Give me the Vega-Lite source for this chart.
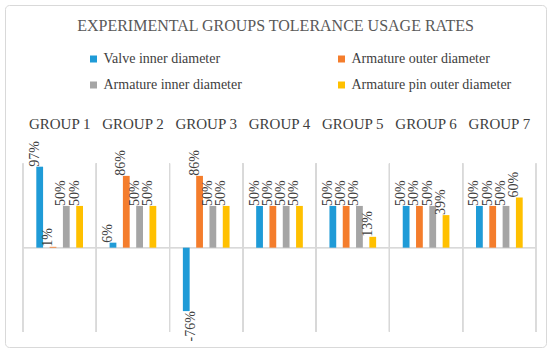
{
  "$schema": "https://vega.github.io/schema/vega-lite/v6.json",
  "width": 541,
  "height": 342,
  "autosize": {"type": "none"},
  "padding": {"left": 5, "top": 5, "right": 4, "bottom": 6},
  "background": "white",
  "title": {
    "text": "EXPERIMENTAL GROUPS TOLERANCE USAGE RATES",
    "font": "Liberation Serif",
    "fontSize": 16,
    "fontWeight": "normal",
    "color": "#595959",
    "anchor": "middle",
    "offset": 0,
    "dy": 29
  },
  "config": {
    "view": {"stroke": "#d9d9d9", "cornerRadius": 4},
    "font": "Liberation Serif",
    "tick": {"bandSize": 1, "thickness": 1}
  },
  "data": {
    "values": [
      {"group": "GROUP 1", "series": "Valve inner diameter", "value": 0.97},
      {"group": "GROUP 1", "series": "Armature outer diameter", "value": 0.01},
      {"group": "GROUP 1", "series": "Armature inner diameter", "value": 0.5},
      {"group": "GROUP 1", "series": "Armature pin outer diameter", "value": 0.5},
      {"group": "GROUP 2", "series": "Valve inner diameter", "value": 0.06},
      {"group": "GROUP 2", "series": "Armature outer diameter", "value": 0.86},
      {"group": "GROUP 2", "series": "Armature inner diameter", "value": 0.5},
      {"group": "GROUP 2", "series": "Armature pin outer diameter", "value": 0.5},
      {"group": "GROUP 3", "series": "Valve inner diameter", "value": -0.76},
      {"group": "GROUP 3", "series": "Armature outer diameter", "value": 0.86},
      {"group": "GROUP 3", "series": "Armature inner diameter", "value": 0.5},
      {"group": "GROUP 3", "series": "Armature pin outer diameter", "value": 0.5},
      {"group": "GROUP 4", "series": "Valve inner diameter", "value": 0.5},
      {"group": "GROUP 4", "series": "Armature outer diameter", "value": 0.5},
      {"group": "GROUP 4", "series": "Armature inner diameter", "value": 0.5},
      {"group": "GROUP 4", "series": "Armature pin outer diameter", "value": 0.5},
      {"group": "GROUP 5", "series": "Valve inner diameter", "value": 0.5},
      {"group": "GROUP 5", "series": "Armature outer diameter", "value": 0.5},
      {"group": "GROUP 5", "series": "Armature inner diameter", "value": 0.5},
      {"group": "GROUP 5", "series": "Armature pin outer diameter", "value": 0.13},
      {"group": "GROUP 6", "series": "Valve inner diameter", "value": 0.5},
      {"group": "GROUP 6", "series": "Armature outer diameter", "value": 0.5},
      {"group": "GROUP 6", "series": "Armature inner diameter", "value": 0.5},
      {"group": "GROUP 6", "series": "Armature pin outer diameter", "value": 0.39},
      {"group": "GROUP 7", "series": "Valve inner diameter", "value": 0.5},
      {"group": "GROUP 7", "series": "Armature outer diameter", "value": 0.5},
      {"group": "GROUP 7", "series": "Armature inner diameter", "value": 0.5},
      {"group": "GROUP 7", "series": "Armature pin outer diameter", "value": 0.6}
    ]
  },
  "layer": [
    {
      "mark": {"type": "rule", "color": "#d9d9d9", "strokeWidth": 1},
      "encoding": {
        "x": {"field": "group", "type": "nominal", "bandPosition": 0, "axis": null},
        "y": {"datum": 1.01, "type": "quantitative", "axis": null},
        "y2": {"datum": -1.01}
      }
    },
    {
      "mark": {"type": "rule", "color": "#d9d9d9", "strokeWidth": 1},
      "encoding": {
        "x": {"field": "group", "type": "nominal", "bandPosition": 1, "axis": null},
        "y": {"datum": 1.01, "type": "quantitative", "axis": null},
        "y2": {"datum": -1.01}
      }
    },
    {
      "mark": {"type": "tick", "color": "#d9d9d9", "thickness": 1, "opacity": 1},
      "encoding": {
        "x": {"field": "group", "type": "nominal", "axis": null},
        "y": {"datum": 0, "type": "quantitative", "axis": null}
      }
    },
    {
      "transform": [{"filter": "datum.series == 'Valve inner diameter'"}],
      "mark": {"type": "text", "align": "center", "baseline": "alphabetic", "fontSize": 15, "font": "Liberation Serif", "color": "#404040"},
      "encoding": {
        "x": {"field": "group", "type": "nominal", "axis": null},
        "y": {"datum": 1.425, "type": "quantitative", "axis": null},
        "text": {"field": "group", "type": "nominal"}
      }
    },
    {
      "mark": {"type": "bar"},
      "encoding": {
        "x": {
          "field": "group",
          "type": "nominal",
          "scale": {"paddingInner": 0, "paddingOuter": 0.191, "align": 0.643},
          "axis": null
        },
        "xOffset": {
          "field": "series",
          "type": "nominal",
          "sort": ["Valve inner diameter", "Armature outer diameter", "Armature inner diameter", "Armature pin outer diameter"],
          "scale": {"paddingInner": 0.49, "paddingOuter": 1.2}
        },
        "y": {
          "field": "value",
          "type": "quantitative",
          "scale": {"domain": [-1.19, 2.907], "nice": false},
          "axis": null
        },
        "color": {
          "field": "series",
          "type": "nominal",
          "sort": ["Valve inner diameter", "Armature outer diameter", "Armature inner diameter", "Armature pin outer diameter"],
          "scale": {
            "domain": ["Valve inner diameter", "Armature outer diameter", "Armature inner diameter", "Armature pin outer diameter"],
            "range": ["#1f9bd7", "#f47d2c", "#a5a5a5", "#ffc000"]
          },
          "legend": {
            "title": null,
            "orient": "none",
            "legendX": 81.5,
            "legendY": 47,
            "columns": 2,
            "direction": "horizontal",
            "symbolType": "square",
            "symbolSize": 49,
            "symbolStrokeWidth": 0,
            "labelFont": "Liberation Serif",
            "labelFontSize": 14,
            "labelColor": "#404040",
            "labelOffset": 3,
            "labelLimit": 300,
            "columnPadding": 92,
            "rowPadding": 12,
            "padding": 0
          }
        }
      }
    },
    {
      "transform": [{"filter": "datum.value >= 0"}],
      "mark": {"type": "text", "angle": 270, "align": "left", "baseline": "middle", "dy": -5, "fontSize": 14, "font": "Liberation Serif", "color": "#404040"},
      "encoding": {
        "x": {"field": "group", "type": "nominal"},
        "xOffset": {"field": "series", "type": "nominal", "sort": ["Valve inner diameter", "Armature outer diameter", "Armature inner diameter", "Armature pin outer diameter"]},
        "y": {"field": "value", "type": "quantitative"},
        "text": {"field": "value", "type": "quantitative", "format": ".0%"}
      }
    },
    {
      "transform": [{"filter": "datum.value < 0"}],
      "mark": {"type": "text", "angle": 270, "align": "right", "baseline": "middle", "dy": 5, "fontSize": 14, "font": "Liberation Serif", "color": "#404040", "text": {"expr": "'-' + format(-datum.value, '.0%')"}},
      "encoding": {
        "x": {"field": "group", "type": "nominal"},
        "xOffset": {"field": "series", "type": "nominal", "sort": ["Valve inner diameter", "Armature outer diameter", "Armature inner diameter", "Armature pin outer diameter"]},
        "y": {"field": "value", "type": "quantitative"}
      }
    }
  ]
}
